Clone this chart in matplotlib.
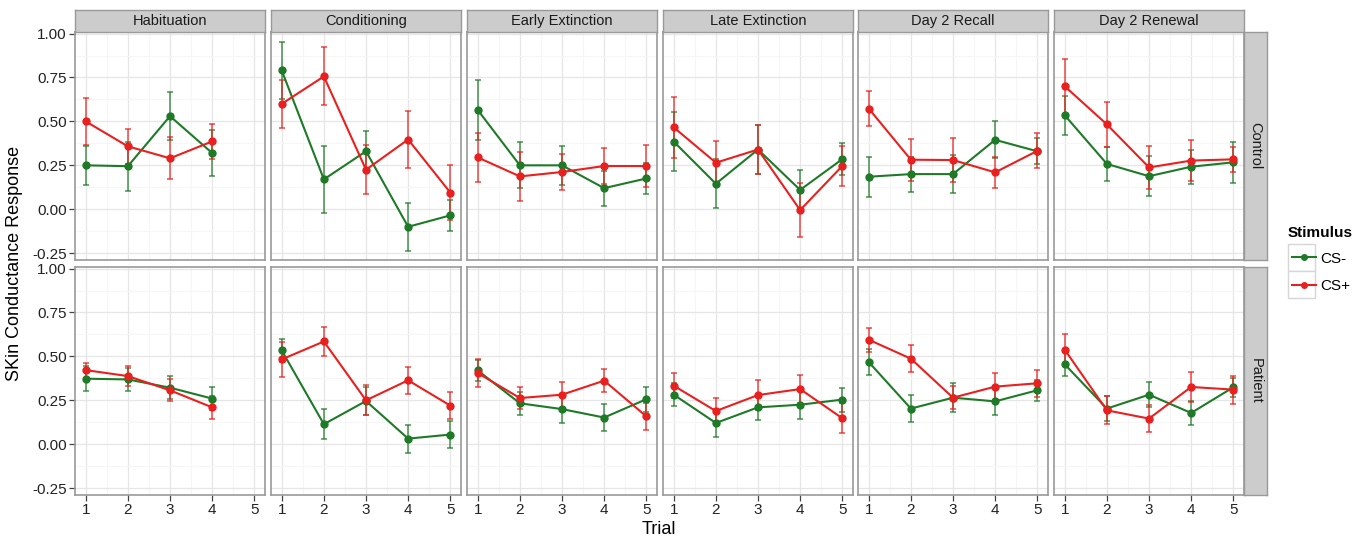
import matplotlib
matplotlib.use("Agg")
import matplotlib.pyplot as plt
from matplotlib.ticker import AutoMinorLocator
from matplotlib.lines import Line2D
from matplotlib.patches import Rectangle

plt.rcParams['font.family'] = ['Liberation Sans', 'DejaVu Sans']

# ---- data ----
phases = ['Habituation', 'Conditioning', 'Early Extinction', 'Late Extinction',
          'Day 2 Recall', 'Day 2 Renewal']
groups = ['Control', 'Patient']
stimuli = ['CS-', 'CS+']

control_csm = [[0.25, 0.245, 0.53, 0.32],
               [0.79, 0.17, 0.33, -0.10, -0.035],
               [0.565, 0.25, 0.25, 0.12, 0.175],
               [0.385, 0.145, 0.34, 0.11, 0.285],
               [0.185, 0.20, 0.20, 0.395, 0.33],
               [0.535, 0.258, 0.188, 0.242, 0.267]]
control_csm_se = [[0.11, 0.14, 0.135, 0.13],
                  [0.16, 0.19, 0.115, 0.135, 0.09],
                  [0.17, 0.13, 0.11, 0.10, 0.09],
                  [0.17, 0.14, 0.14, 0.115, 0.09],
                  [0.115, 0.10, 0.11, 0.105, 0.075],
                  [0.11, 0.095, 0.115, 0.097, 0.115]]
control_csp = [[0.50, 0.358, 0.29, 0.386],
               [0.60, 0.756, 0.225, 0.397, 0.095],
               [0.295, 0.187, 0.212, 0.246, 0.246],
               [0.466, 0.265, 0.34, -0.005, 0.246],
               [0.573, 0.282, 0.28, 0.21, 0.332],
               [0.70, 0.483, 0.238, 0.277, 0.284]]
control_csp_se = [[0.135, 0.10, 0.12, 0.10],
                  [0.137, 0.165, 0.14, 0.16, 0.155],
                  [0.14, 0.14, 0.105, 0.10, 0.12],
                  [0.175, 0.125, 0.14, 0.155, 0.115],
                  [0.10, 0.12, 0.125, 0.09, 0.10],
                  [0.157, 0.13, 0.12, 0.115, 0.07]]

patient_csm = [[0.373, 0.369, 0.322, 0.26],
               [0.534, 0.114, 0.246, 0.032, 0.055],
               [0.42, 0.233, 0.20, 0.152, 0.256],
               [0.282, 0.121, 0.21, 0.225, 0.254],
               [0.468, 0.203, 0.265, 0.244, 0.307],
               [0.455, 0.203, 0.282, 0.178, 0.324]]
patient_csm_se = [[0.07, 0.065, 0.064, 0.066],
                  [0.066, 0.085, 0.08, 0.08, 0.075],
                  [0.06, 0.066, 0.08, 0.076, 0.07],
                  [0.066, 0.08, 0.07, 0.08, 0.068],
                  [0.076, 0.078, 0.082, 0.08, 0.06],
                  [0.068, 0.07, 0.07, 0.07, 0.055]]
patient_csp = [[0.422, 0.388, 0.307, 0.21],
               [0.483, 0.585, 0.25, 0.364, 0.22],
               [0.405, 0.263, 0.282, 0.362, 0.159],
               [0.333, 0.189, 0.28, 0.314, 0.148],
               [0.595, 0.487, 0.265, 0.328, 0.347],
               [0.538, 0.193, 0.146, 0.326, 0.311]]
patient_csp_se = [[0.043, 0.056, 0.062, 0.064],
                  [0.10, 0.08, 0.085, 0.077, 0.077],
                  [0.08, 0.065, 0.075, 0.064, 0.078],
                  [0.07, 0.075, 0.085, 0.08, 0.084],
                  [0.068, 0.076, 0.065, 0.08, 0.076],
                  [0.09, 0.08, 0.077, 0.085, 0.08]]

series = {
    'Control': [(control_csm, control_csm_se), (control_csp, control_csp_se)],
    'Patient': [(patient_csm, patient_csm_se), (patient_csp, patient_csp_se)],
}
colors = ['#1f7a28', '#e8201f']

# ---- layout (pixels) ----
W, H = 1366, 542
panel_left = [75, 271, 467, 663, 858, 1054]
panel_w = 190
row_top = [32, 267]
panel_h = 228
strip_h = 22
strip_w = 23


def px(x0, y0, w, h):
    return [x0 / W, 1 - (y0 + h) / H, w / W, h / H]


fig = plt.figure(figsize=(W / 100, H / 100), dpi=100)
border = '#999999'
fs = 10.5

for r, grp in enumerate(groups):
    for c, ph in enumerate(phases):
        ax = fig.add_axes(px(panel_left[c], row_top[r], panel_w, panel_h))
        ax.set_facecolor('white')
        ax.set_xlim(0.745, 5.255)
        ax.set_ylim(-0.289, 1.009)
        ax.set_xticks([1, 2, 3, 4, 5])
        ax.set_yticks([-0.25, 0, 0.25, 0.5, 0.75, 1.0])
        ax.xaxis.set_minor_locator(AutoMinorLocator(2))
        ax.yaxis.set_minor_locator(AutoMinorLocator(2))
        ax.grid(which='major', color='#e6e6e6', linewidth=0.9)
        ax.grid(which='minor', color='#f6f6f6', linewidth=0.8)
        ax.set_axisbelow(True)
        for sp in ax.spines.values():
            sp.set_color(border)
            sp.set_linewidth(1.2)
        ax.tick_params(which='minor', length=0)
        ax.tick_params(which='major', length=4, width=0.9, color='#444444',
                       labelsize=11, labelcolor='#222222', pad=2)
        if c == 0:
            ax.set_yticklabels(['-0.25', '0.00', '0.25', '0.50', '0.75', '1.00'])
        else:
            ax.tick_params(axis='y', length=0, labelleft=False)
        if r == 0:
            ax.tick_params(axis='x', length=0, labelbottom=False)

        for s, (vals, errs) in enumerate(series[grp]):
            y = vals[c]
            e = errs[c]
            x = list(range(1, len(y) + 1))
            ax.errorbar(x, y, yerr=e, fmt='none', ecolor=colors[s], elinewidth=1.2,
                        capsize=2.2, capthick=1.2, alpha=0.75, zorder=3)
            ax.plot(x, y, color=colors[s], linewidth=1.5, marker='o',
                    markersize=5, zorder=4)

        # top strip
        if r == 0:
            sax = fig.add_axes(px(panel_left[c], row_top[0] - strip_h, panel_w, strip_h))
            sax.set_facecolor('#cccccc')
            sax.set_xticks([])
            sax.set_yticks([])
            for sp in sax.spines.values():
                sp.set_color(border)
                sp.set_linewidth(1.0)
            sax.text(0.5, 0.5, ph, ha='center', va='center', fontsize=fs,
                     color='#1a1a1a', transform=sax.transAxes)

    # right strip
    rax = fig.add_axes(px(panel_left[-1] + panel_w, row_top[r], strip_w, panel_h))
    rax.set_facecolor('#cccccc')
    rax.set_xticks([])
    rax.set_yticks([])
    for sp in rax.spines.values():
        sp.set_color(border)
        sp.set_linewidth(1.0)
    rax.text(0.5, 0.5, grp, ha='center', va='center', rotation=270, fontsize=fs,
             color='#1a1a1a', transform=rax.transAxes)

fig.text(15 / W, 1 - 263 / H, 'SKin Conductance Response', rotation=90,
         ha='center', va='center', fontsize=13)
fig.text(659 / W, 1 - 530 / H, 'Trial', ha='center', va='center', fontsize=13)

# legend: title, key boxes, entries
fig.text(1288 / W, 1 - 233 / H, 'Stimulus', ha='left', va='center',
         fontsize=11, fontweight='bold')
for k in range(2):
    fig.add_artist(Rectangle((1288 / W, 1 - (270.5 + 27 * k) / H), 27 / W, 27 / H,
                             transform=fig.transFigure, facecolor='white',
                             edgecolor='#d6d6d6', linewidth=1.0, zorder=0))

handles = [Line2D([], [], color=colors[i], marker='o', markersize=4, linewidth=1.5)
           for i in range(2)]
leg = fig.legend(handles, stimuli, loc='upper left',
                 bbox_to_anchor=(1278 / W, 1 - 238 / H), frameon=False,
                 fontsize=11, handlelength=1.6, handletextpad=0.25,
                 labelspacing=0.88)

fig.savefig('out.png', dpi=100)
